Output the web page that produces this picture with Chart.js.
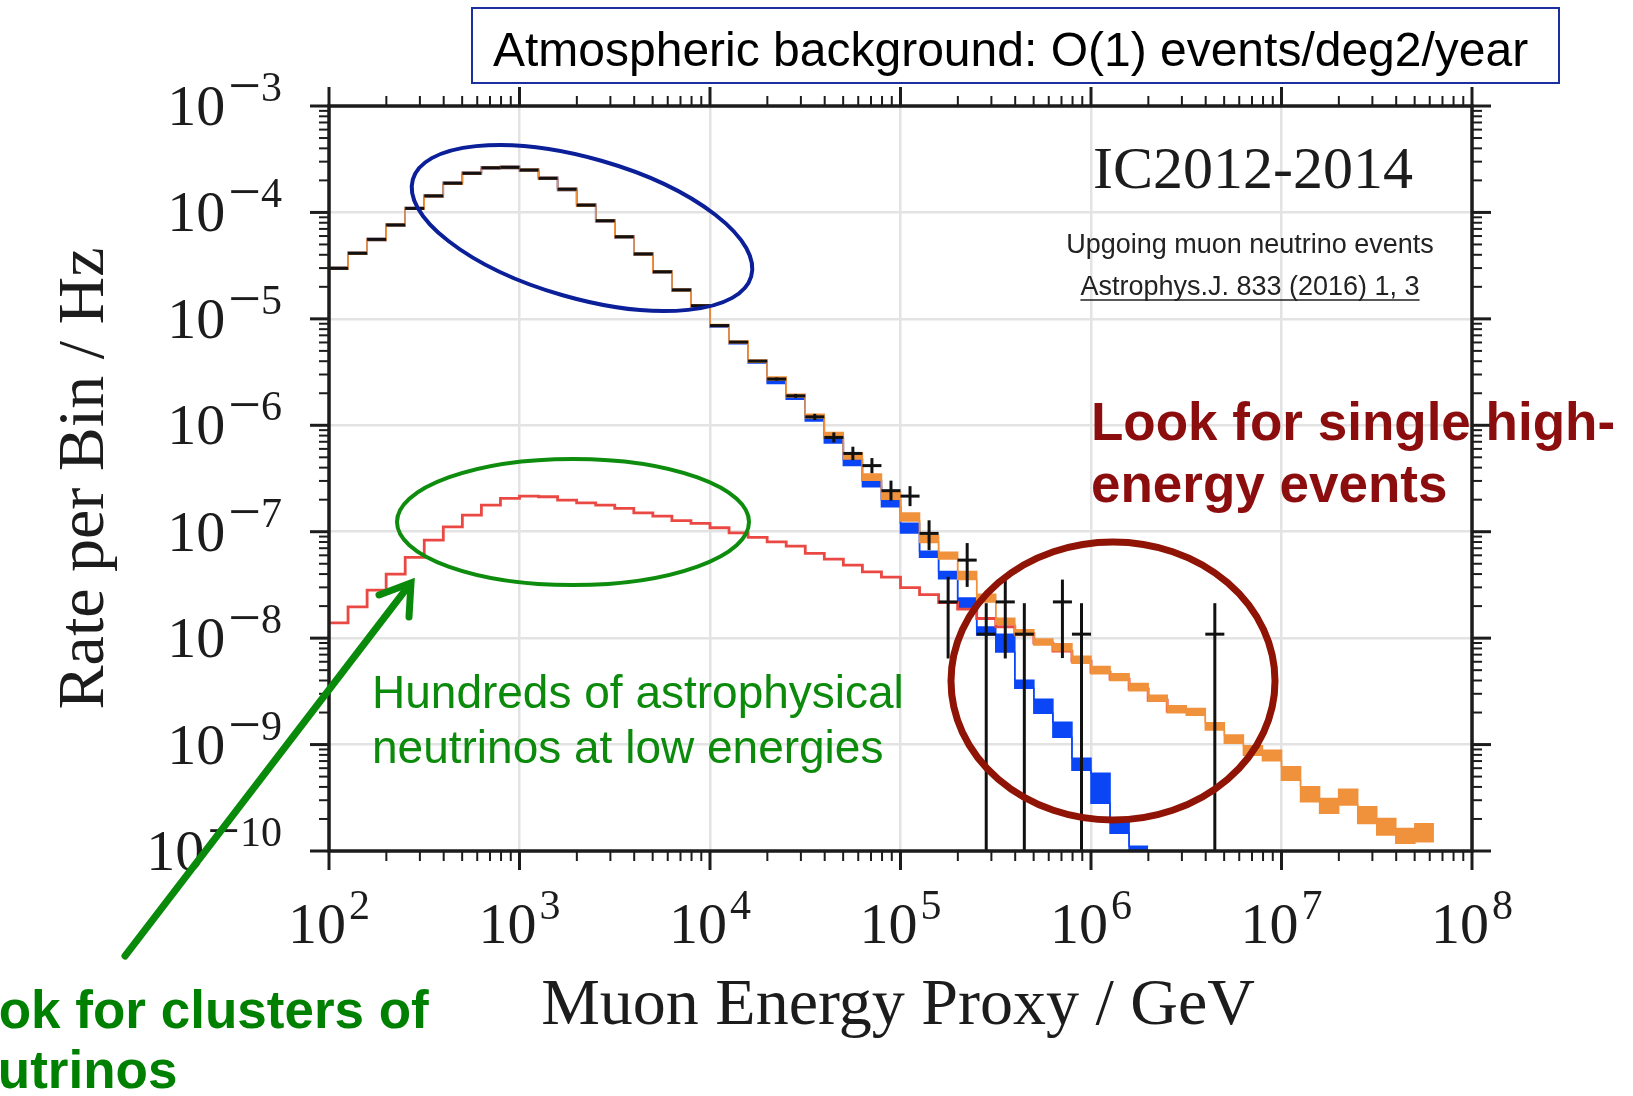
<!DOCTYPE html>
<html>
<head>
<meta charset="utf-8">
<title>IC2012-2014 upgoing muon neutrino rates</title>
<script src="https://cdn.jsdelivr.net/npm/chart.js@4.4.1/dist/chart.umd.min.js"></script>
<style>
  html, body { margin: 0; padding: 0; background: #fff; }
  #wrap { position: relative; width: 1633px; height: 1096px; overflow: hidden; }
  canvas { display: block; }
</style>
</head>
<body>
<div id="wrap"><canvas id="rate-chart" width="1633" height="1096"></canvas></div>
<script>
// log10 of the energy bin edges (GeV), ten bins per decade
const binEdgesLog = [
  2.0, 2.1, 2.2, 2.3, 2.4, 2.5, 2.6, 2.7, 2.8, 2.9,
  3.0, 3.1, 3.2, 3.3, 3.4, 3.5, 3.6, 3.7, 3.8, 3.9,
  4.0, 4.1, 4.2, 4.3, 4.4, 4.5, 4.6, 4.7, 4.8, 4.9,
  5.0, 5.1, 5.2, 5.3, 5.4, 5.5, 5.6, 5.7, 5.8, 5.9,
  6.0, 6.1, 6.2, 6.3, 6.4, 6.5, 6.6, 6.7, 6.8, 6.9,
  7.0, 7.1, 7.2, 7.3, 7.4, 7.5, 7.6, 7.7, 7.8
];

// observed rate per bin (Hz), null = empty bin
const dataRate = [
  2.98e-5, 4.13e-5, 5.58e-5, 7.62e-5, 1.09e-4, 1.43e-4, 1.88e-4, 2.33e-4, 2.63e-4, 2.65e-4,
  2.50e-4, 2.09e-4, 1.65e-4, 1.17e-4, 8.36e-5, 5.91e-5, 4.07e-5, 2.77e-5, 1.87e-5, 1.33e-5,
  8.65e-6, 6.05e-6, 4.01e-6, 2.72e-6, 1.89e-6, 1.20e-6, 7.69e-7, 5.44e-7, 4.18e-7, 2.43e-7,
  2.16e-7, 9.64e-8, 2.19e-8, 5.41e-8, 1.09e-8, 2.19e-8, 1.09e-8, null, 2.19e-8, 1.09e-8,
  null, null, null, null, null, null, 1.09e-8
];
// error bar ends (0 = runs down to the axis)
const dataErrLow = [
  null, null, null, null, null, null, null, null, null, null,
  null, null, null, null, null, null, null, null, null, null,
  null, null, null, 2.63e-6, 1.81e-6, 1.12e-6, 6.90e-7, 4.71e-7, 3.55e-7, 1.96e-7,
  1.74e-7, 6.71e-8, 6.44e-9, 3.03e-8, 0, 6.44e-9, 0, null, 6.50e-9, 0,
  null, null, null, null, null, null, 0
];
const dataErrHigh = [
  null, null, null, null, null, null, null, null, null, null,
  null, null, null, null, null, null, null, null, null, null,
  null, null, null, 2.81e-6, 1.97e-6, 1.28e-6, 8.57e-7, 6.29e-7, 4.92e-7, 3.02e-7,
  2.68e-7, 1.28e-7, 3.77e-8, 7.82e-8, 2.13e-8, 3.51e-8, 2.13e-8, null, 3.55e-8, 2.13e-8,
  null, null, null, null, null, null, 2.13e-8
];

// best-fit total (atmospheric + astrophysical), band edges
const totalLow = [
  2.92e-5, 4.04e-5, 5.46e-5, 7.46e-5, 1.07e-4, 1.40e-4, 1.84e-4, 2.28e-4, 2.57e-4, 2.59e-4,
  2.45e-4, 2.05e-4, 1.61e-4, 1.14e-4, 8.18e-5, 5.78e-5, 3.98e-5, 2.71e-5, 1.83e-5, 1.30e-5,
  8.46e-6, 5.92e-6, 3.92e-6, 2.66e-6, 1.84e-6, 1.17e-6, 7.66e-7, 4.81e-7, 3.05e-7, 2.02e-7,
  1.26e-7, 7.90e-8, 5.53e-8, 3.55e-8, 2.18e-8, 1.35e-8, 1.06e-8, 8.60e-9, 7.63e-9, 5.82e-9,
  4.64e-9, 3.99e-9, 3.21e-9, 2.56e-9, 1.99e-9, 1.89e-9, 1.37e-9, 1.03e-9, 7.95e-10, 7.04e-10,
  4.63e-10, 2.91e-10, 2.26e-10, 2.70e-10, 1.81e-10, 1.41e-10, 1.18e-10, 1.22e-10
];
const totalHigh = [
  3.05e-5, 4.22e-5, 5.70e-5, 7.79e-5, 1.11e-4, 1.46e-4, 1.92e-4, 2.38e-4, 2.69e-4, 2.71e-4,
  2.56e-4, 2.14e-4, 1.69e-4, 1.20e-4, 8.54e-5, 6.04e-5, 4.16e-5, 2.83e-5, 1.91e-5, 1.36e-5,
  8.84e-6, 6.18e-6, 4.10e-6, 2.84e-6, 1.96e-6, 1.27e-6, 8.54e-7, 5.48e-7, 3.48e-7, 2.36e-7,
  1.50e-7, 9.19e-8, 6.43e-8, 4.22e-8, 2.59e-8, 1.54e-8, 1.20e-8, 9.79e-9, 8.88e-9, 6.77e-9,
  5.40e-9, 4.64e-9, 3.74e-9, 2.91e-9, 2.32e-9, 2.18e-9, 1.60e-9, 1.23e-9, 9.74e-10, 8.86e-10,
  6.19e-10, 4.02e-10, 3.12e-10, 3.81e-10, 2.60e-10, 2.02e-10, 1.63e-10, 1.80e-10
];

// conventional atmospheric component, band edges
const atmLow = [
  2.92e-5, 4.04e-5, 5.46e-5, 7.46e-5, 1.07e-4, 1.40e-4, 1.84e-4, 2.28e-4, 2.57e-4, 2.59e-4,
  2.45e-4, 2.05e-4, 1.61e-4, 1.14e-4, 8.18e-5, 5.78e-5, 3.98e-5, 2.71e-5, 1.83e-5, 1.30e-5,
  8.40e-6, 5.85e-6, 3.84e-6, 2.47e-6, 1.76e-6, 1.10e-6, 6.80e-7, 4.18e-7, 2.65e-7, 1.72e-7,
  9.70e-8, 5.77e-8, 3.62e-8, 1.91e-8, 1.07e-8, 7.39e-9, 3.39e-9, 1.97e-9, 1.17e-9, 5.75e-10,
  2.81e-10, 1.47e-10, 8.56e-11
];
const atmHigh = [
  3.05e-5, 4.22e-5, 5.70e-5, 7.79e-5, 1.11e-4, 1.46e-4, 1.92e-4, 2.38e-4, 2.69e-4, 2.71e-4,
  2.56e-4, 2.14e-4, 1.69e-4, 1.20e-4, 8.54e-5, 6.04e-5, 4.16e-5, 2.83e-5, 1.91e-5, 1.36e-5,
  8.76e-6, 6.10e-6, 4.02e-6, 2.63e-6, 1.88e-6, 1.19e-6, 7.58e-7, 4.76e-7, 3.02e-7, 2.00e-7,
  1.20e-7, 6.57e-8, 4.22e-8, 2.38e-8, 1.27e-8, 1.09e-8, 4.03e-9, 2.67e-9, 1.62e-9, 7.45e-10,
  5.38e-10, 2.03e-10, 1.11e-10
];

// astrophysical component
const astroRate = [
  1.39e-8, 1.97e-8, 2.83e-8, 4.00e-8, 5.73e-8, 8.34e-8, 1.11e-7, 1.43e-7, 1.78e-7, 2.06e-7,
  2.16e-7, 2.13e-7, 1.98e-7, 1.87e-7, 1.78e-7, 1.66e-7, 1.50e-7, 1.40e-7, 1.27e-7, 1.20e-7,
  1.09e-7, 9.77e-8, 8.84e-8, 8.04e-8, 7.32e-8, 6.25e-8, 5.53e-8, 4.86e-8, 4.20e-8, 3.75e-8,
  2.98e-8, 2.56e-8, 2.16e-8, 1.87e-8, 1.53e-8, 1.28e-8, 1.10e-8, 8.97e-9, 7.55e-9, 6.08e-9,
  4.79e-9, 4.12e-9, 3.32e-9, 2.61e-9, 2.06e-9
];

// decade labels on the axes
const xTickExponents = [2, 3, 4, 5, 6, 7, 8];
const yTickExponents = [-3, -4, -5, -6, -7, -8, -9, -10];

const ORANGE = '#f0913c';
const BLUE = '#0a46f5';
const RED = '#ea4943';
const INK = '#1c1c1c';
const SERIF = '"Liberation Serif", "Times New Roman", serif';
const SANS = '"Liberation Sans", Arial, sans-serif';

// histogram: one point per left bin edge plus the closing right edge
function histogramPoints(values) {
  const pts = values.map((v, i) => ({ x: Math.pow(10, binEdgesLog[i]), y: v }));
  pts.push({ x: Math.pow(10, binEdgesLog[values.length]), y: values[values.length - 1] });
  return pts;
}

function stepLine(label, values, color, width, fill, order) {
  return {
    label: label,
    data: histogramPoints(values),
    borderColor: color,
    backgroundColor: color,
    borderWidth: width,
    stepped: 'before',
    pointRadius: 0,
    fill: fill,
    order: order
  };
}

function seg(ctx, x0, y0, x1, y1) {
  ctx.beginPath();
  ctx.moveTo(x0, y0);
  ctx.lineTo(x1, y1);
  ctx.stroke();
}

// "10" with a raised exponent; the minus is set in the larger size so it reads long
function drawPower(ctx, exp, x, baseline, align) {
  const digits = String(Math.abs(exp));
  const minus = exp < 0 ? '\u2212' : '';
  ctx.font = '58px ' + SERIF;
  const wBase = ctx.measureText('10').width;
  const wMinus = minus ? ctx.measureText(minus).width : 0;
  ctx.font = '42px ' + SERIF;
  const wDigits = ctx.measureText(digits).width;
  const gap = 3;
  const total = wBase + gap + wMinus + wDigits;
  const left = align === 'right' ? x - total : x - total / 2;
  ctx.textAlign = 'left';
  ctx.textBaseline = 'alphabetic';
  ctx.font = '58px ' + SERIF;
  ctx.fillText('10', left, baseline);
  if (minus) ctx.fillText(minus, left + wBase + gap, baseline - 20);
  ctx.font = '42px ' + SERIF;
  ctx.fillText(digits, left + wBase + gap + wMinus, baseline - 24);
}

// data: horizontal bar over each bin plus vertical error bar
const dataMarks = {
  id: 'dataMarks',
  afterDatasetsDraw(chart) {
    const { ctx, chartArea: a, scales: { x, y } } = chart;
    ctx.save();
    ctx.beginPath();
    ctx.rect(a.left, a.top, a.width, a.height);
    ctx.clip();
    ctx.strokeStyle = '#111';
    ctx.lineWidth = 3;
    dataRate.forEach((v, i) => {
      if (v === null) return;
      const x0 = x.getPixelForValue(Math.pow(10, binEdgesLog[i]));
      const x1 = x.getPixelForValue(Math.pow(10, binEdgesLog[i + 1]));
      const yv = y.getPixelForValue(v);
      seg(ctx, x0, yv, x1, yv);
      if (dataErrHigh[i] !== null) {
        const xc = (x0 + x1) / 2;
        seg(ctx, xc, y.getPixelForValue(dataErrHigh[i]), xc, y.getPixelForValue(dataErrLow[i]));
      }
    });
    ctx.restore();
  }
};

// frame, outward ticks on all sides, labels, titles and notes
const decor = {
  id: 'decor',
  afterDraw(chart) {
    const { ctx, chartArea: a, scales: { x, y } } = chart;
    ctx.save();
    ctx.strokeStyle = INK;
    ctx.fillStyle = INK;

    ctx.lineWidth = 2;
    xTickExponents.forEach(e => {
      for (let k = 2; k <= 9; k++) {
        const v = k * Math.pow(10, e);
        if (v >= x.max) break;
        const px = x.getPixelForValue(v);
        seg(ctx, px, a.bottom, px, a.bottom + 10);
        seg(ctx, px, a.top, px, a.top - 10);
      }
    });
    yTickExponents.forEach(e => {
      for (let k = 2; k <= 9; k++) {
        const v = k * Math.pow(10, e);
        if (v >= y.max) break;
        const py = y.getPixelForValue(v);
        seg(ctx, a.left, py, a.left - 10, py);
        seg(ctx, a.right, py, a.right + 10, py);
      }
    });
    ctx.lineWidth = 3;
    xTickExponents.forEach(e => {
      const px = x.getPixelForValue(Math.pow(10, e));
      seg(ctx, px, a.bottom, px, a.bottom + 19);
      seg(ctx, px, a.top, px, a.top - 19);
    });
    yTickExponents.forEach(e => {
      const py = y.getPixelForValue(Math.pow(10, e));
      seg(ctx, a.left, py, a.left - 19, py);
      seg(ctx, a.right, py, a.right + 19, py);
    });
    ctx.lineWidth = 3.5;
    ctx.strokeRect(a.left, a.top, a.width, a.height);

    xTickExponents.forEach(e => drawPower(ctx, e, x.getPixelForValue(Math.pow(10, e)), 943, 'center'));
    yTickExponents.forEach(e => drawPower(ctx, e, 282, y.getPixelForValue(Math.pow(10, e)) + 19, 'right'));

    // axis titles
    ctx.font = '66px ' + SERIF;
    ctx.textAlign = 'center';
    ctx.fillText('Muon Energy Proxy / GeV', 898, 1024);
    ctx.save();
    ctx.translate(103, (a.top + a.bottom) / 2);
    ctx.rotate(-Math.PI / 2);
    ctx.fillText('Rate per Bin / Hz', 0, 0);
    ctx.restore();

    // sample label
    ctx.font = '60px ' + SERIF;
    ctx.fillText('IC2012-2014', 1253, 188);
    ctx.font = '27px ' + SANS;
    ctx.fillStyle = '#222';
    ctx.fillText('Upgoing muon neutrino events', 1250, 253);
    const ref = 'Astrophys.J. 833 (2016) 1, 3';
    ctx.fillText(ref, 1250, 295);
    const wRef = ctx.measureText(ref).width;
    ctx.strokeStyle = '#222';
    ctx.lineWidth = 1.5;
    seg(ctx, 1250 - wRef / 2, 300, 1250 + wRef / 2, 300);

    // header box
    ctx.strokeStyle = '#1c2f9e';
    ctx.lineWidth = 2;
    ctx.strokeRect(472, 8, 1087, 75);
    ctx.fillStyle = '#000';
    ctx.textAlign = 'left';
    ctx.font = '48px ' + SANS;
    ctx.fillText('Atmospheric background: O(1) events/deg2/year', 493, 66);

    // highlighted regions
    ctx.lineWidth = 4;
    ctx.strokeStyle = '#0b1f99';
    ctx.beginPath();
    ctx.ellipse(582, 228, 176, 70, 16 * Math.PI / 180, 0, 2 * Math.PI);
    ctx.stroke();
    ctx.strokeStyle = '#0e8c0e';
    ctx.beginPath();
    ctx.ellipse(573, 522, 176, 63, 0, 0, 2 * Math.PI);
    ctx.stroke();
    ctx.lineWidth = 7;
    ctx.strokeStyle = '#8f1405';
    ctx.beginPath();
    ctx.ellipse(1113, 681, 162, 139, 0, 0, 2 * Math.PI);
    ctx.stroke();

    // arrow to the low-energy astrophysical bins
    ctx.strokeStyle = '#0a8a0a';
    ctx.lineWidth = 7;
    ctx.lineCap = 'round';
    seg(ctx, 125, 956, 410, 584);
    ctx.beginPath();
    ctx.moveTo(379, 595);
    ctx.lineTo(411, 583);
    ctx.lineTo(409, 617);
    ctx.stroke();

    // notes
    ctx.fillStyle = '#8b0d0d';
    ctx.font = 'bold 53px ' + SANS;
    ctx.fillText('Look for single high-', 1091, 440);
    ctx.fillText('energy events', 1091, 502);
    ctx.fillStyle = '#0b8a0b';
    ctx.font = '46px ' + SANS;
    ctx.fillText('Hundreds of astrophysical', 372, 708);
    ctx.fillText('neutrinos at low energies', 372, 763);
    ctx.fillStyle = '#008000';
    ctx.font = 'bold 53px ' + SANS;
    ctx.fillText('Look for clusters of', -66, 1028);
    ctx.fillText('neutrinos', -64, 1088);
    ctx.restore();
  }
};

const logAxis = (min, max, exps) => ({
  type: 'logarithmic',
  min: min,
  max: max,
  afterBuildTicks: axis => { axis.ticks = exps.map(e => ({ value: Math.pow(10, e) })); },
  ticks: { display: false },
  grid: { color: '#e3e3e3', lineWidth: 2.5, drawTicks: false },
  border: { display: false }
});

new Chart(document.getElementById('rate-chart'), {
  type: 'line',
  data: {
    datasets: [
      stepLine('Total (high)', totalHigh, ORANGE, 1.5, false, 1),
      stepLine('Total (low)', totalLow, ORANGE, 1.5, '-1', 1),
      stepLine('Astrophysical', astroRate, RED, 2.8, false, 2),
      stepLine('Atmospheric (high)', atmHigh, BLUE, 1.5, false, 3),
      stepLine('Atmospheric (low)', atmLow, BLUE, 1.5, '-1', 3)
    ]
  },
  options: {
    responsive: false,
    animation: false,
    devicePixelRatio: 1,
    layout: { padding: { left: 329, top: 106, right: 161, bottom: 245 } },
    plugins: { legend: { display: false }, tooltip: { enabled: false } },
    scales: {
      x: Object.assign(logAxis(1e2, 1e8, xTickExponents), { position: 'bottom' }),
      y: Object.assign(logAxis(1e-10, 1e-3, yTickExponents), { position: 'left' })
    }
  },
  plugins: [dataMarks, decor]
});
</script>
</body>
</html>
